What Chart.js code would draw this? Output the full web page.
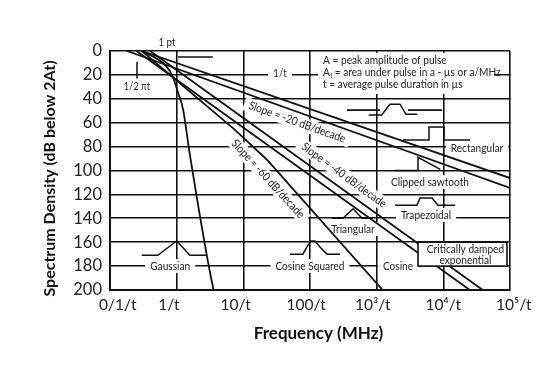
<!DOCTYPE html>
<html>
<head>
<meta charset="utf-8">
<script src="https://cdn.jsdelivr.net/npm/chart.js@4"></script>
<style>
html, body { margin: 0; padding: 0; background: #fff; }
</style>
</head>
<body>
<canvas id="spectrumChart" width="560" height="377"></canvas>
<script>
// axis ticks
var freqTicks = [0.1, 1, 10, 100, 1000, 10000, 100000];
var freqLabels = ['\u2002\u20020/1/t', '1/t\u2002\u2002', '10/t\u2002\u2002', '100/t\u2002', '10\u00b3/t\u2002', '10\u2074/t', '\u200210\u2075/t'];

// spectrum envelopes: [frequency (x 1/t), dB below 2At]
var rectangular = [[0.18, 0], [100000, 114.6]];
var clippedSawtooth = [[0.3, 0], [100000, 106.3]];
var triangular = [[0.25, 0], [25000, 200]];
var dampedExp = [[0.4, 0], [39000, 200]];
var cosineSquared = [[0.3, 0], [7.5, 66], [22.6, 91], [1230, 200]];
var gaussian = [[0.3, 0], [0.67, 11.7], [0.88, 21.8], [1.05, 35], [1.25, 49], [1.58, 87], [3.5, 197.5], [3.6, 200]];

// small pulse sketches and marks
var gaussianIcon = [[0.3, 171], [0.52, 171], [1.0, 159], [1.58, 171], [2.85, 171]];
var cosSqIcon = [[50, 170], [78, 170], [90, 164], [103, 159], [119, 159], [141, 164], [180, 170], [282, 170]];
var triangleIcon = [[214, 140], [313, 140], [442, 132], [603, 140], [881, 140]];
var trapIcon = [[1884, 129], [4027, 129], [4467, 123], [6761, 123], [8318, 129], [14962, 129]];
var trapTopIcon = [[760, 53.5], [1190, 53.5], [1580, 44.5], [2240, 44.5], [2750, 53], [4050, 53]];
var rectIcon = [[2483, 74.5], [6095, 74.5], [6095, 63.6], [10233, 63.6], [10233, 74.5], [25119, 74.5]];
var sawIcon = [[1850, 100], [4170, 100], [4170, 89], [9000, 99]];
var topBarLeft = [[359, 49.5], [1122, 49.5]];
var topBarRight = [[2951, 49.5], [9550, 49.5]];
var halfPiTick = [[0.254, 9], [0.254, 23]];
var shortBar = [[1.05, 5], [3.5, 5]];

function pts(arr) {
    return arr.map(function(p) { return { x: p[0], y: p[1] }; });
}

function curve(arr, width) {
    return {
        data: pts(arr),
        borderColor: '#111',
        borderWidth: width || 1.8,
        pointRadius: 0,
        fill: false,
        tension: 0
    };
}

var gaussCurve = curve(gaussian);
gaussCurve.cubicInterpolationMode = 'monotone';

var squeeze = 0.88;  // narrow the text a little, like the condensed original face

var notes = [
    { text: '1 pt', f: 0.716, db: -7.5, size: 11 },
    { text: '1/2 \u03c0t', f: 0.254, db: 30, size: 10.5 },
    { text: '1/t', f: 35.5, db: 18.5, size: 11.5, bg: true },
    { text: 'Slope = -20 dB/decade', f: 64, db: 59.5, size: 11.5, rot: 19.7, bg: true },
    { text: 'Slope = -40 dB/decade', f: 324, db: 104, size: 11.5, rot: 36, bg: true },
    { text: 'Slope = -60 dB/decade', f: 23.4, db: 107, size: 11.5, rot: 47.5, bg: true },
    { text: 'Rectangular', f: 32000, db: 81.2, size: 11.5, bg: true },
    { text: 'Clipped sawtooth', f: 6300, db: 109.6, size: 11.5, bg: true },
    { text: 'Trapezoidal', f: 5500, db: 137.2, size: 11.5, bg: true },
    { text: 'Triangular', f: 441, db: 149, size: 11.5, bg: true },
    { text: 'Cosine', f: 2090, db: 180, size: 11.5, bg: true },
    { text: 'Cosine Squared', f: 100, db: 180, size: 11.5, bg: true },
    { text: 'Gaussian', f: 0.8, db: 180, size: 11.5, bg: true }
];

var annotationPlugin = {
    id: 'annotationPlugin',
    beforeDatasetsDraw: function(chart) {
        var ctx = chart.ctx;
        var xs = chart.scales.x, ys = chart.scales.y;
        ctx.save();
        notes.forEach(function(n) {
            if (!n.bg) return;
            ctx.font = n.size + 'px Lato';
            var w = ctx.measureText(n.text).width * squeeze;
            ctx.save();
            ctx.translate(xs.getPixelForValue(n.f), ys.getPixelForValue(n.db));
            ctx.rotate((n.rot || 0) * Math.PI / 180);
            ctx.fillStyle = '#fff';
            ctx.fillRect(-w / 2 - 5, -n.size * 0.6, w + 10, n.size * 1.2);
            ctx.restore();
        });
        // legend text block background
        var x0 = xs.getPixelForValue(157);
        ctx.fillStyle = '#fff';
        ctx.fillRect(x0 - 5, ys.getPixelForValue(1.5), 176, ys.getPixelForValue(36) - ys.getPixelForValue(1.5));
        ctx.restore();
    },
    afterDatasetsDraw: function(chart) {
        var ctx = chart.ctx;
        var xs = chart.scales.x, ys = chart.scales.y;
        ctx.save();
        // boxed label
        var bx0 = xs.getPixelForValue(4170), bx1 = xs.getPixelForValue(90000);
        var by0 = ys.getPixelForValue(160), by1 = ys.getPixelForValue(180);
        ctx.fillStyle = '#fff';
        ctx.fillRect(bx0, by0, bx1 - bx0, by1 - by0);
        ctx.strokeStyle = '#111';
        ctx.lineWidth = 1.6;
        ctx.strokeRect(bx0, by0, bx1 - bx0, by1 - by0);
        ctx.fillStyle = '#222';
        ctx.textAlign = 'center';
        ctx.textBaseline = 'middle';

        function say(text, x, y, size, rot) {
            ctx.save();
            ctx.font = size + 'px Lato';
            ctx.translate(x, y);
            ctx.rotate((rot || 0) * Math.PI / 180);
            ctx.scale(squeeze, 1);
            ctx.fillText(text, 0, 0);
            ctx.restore();
        }

        var bcx = (bx0 + bx1) / 2;
        say('Critically damped', bcx + 3, by0 + 7.5, 11.5);
        say('exponential', bcx + 3, by0 + 18, 11.5);

        notes.forEach(function(n) {
            say(n.text, xs.getPixelForValue(n.f), ys.getPixelForValue(n.db), n.size, n.rot);
        });

        // legend text block
        var x0 = xs.getPixelForValue(157);
        ctx.save();
        ctx.translate(x0, 0);
        ctx.scale(squeeze, 1);
        ctx.textAlign = 'left';
        ctx.font = '11.5px Lato';
        ctx.fillText('A = peak amplitude of pulse', 0, ys.getPixelForValue(8.1));
        var y2 = ys.getPixelForValue(18.1);
        ctx.fillText('A', 0, y2);
        var wa = ctx.measureText('A').width;
        ctx.font = '7px Lato';
        ctx.fillText('t', wa + 0.5, y2 + 3);
        ctx.font = '11.5px Lato';
        ctx.fillText(' = area under pulse in a - \u00b5s or a/MHz', wa + 2.5, y2);
        ctx.fillText('t = average pulse duration in \u00b5s', 0, ys.getPixelForValue(27.6));
        ctx.restore();
        ctx.restore();
    }
};

var ctx = document.getElementById('spectrumChart').getContext('2d');
var spectrumChart = new Chart(ctx, {
    type: 'line',
    data: {
        datasets: [
            curve(rectangular),
            curve(clippedSawtooth),
            curve(triangular),
            curve(dampedExp),
            curve(cosineSquared),
            gaussCurve,
            curve(gaussianIcon, 1.5),
            curve(cosSqIcon, 1.5),
            curve(triangleIcon, 1.5),
            curve(trapIcon, 1.5),
            curve(trapTopIcon, 1.5),
            curve(rectIcon, 1.5),
            curve(sawIcon, 1.5),
            curve(topBarLeft, 1.6),
            curve(topBarRight, 1.6),
            curve(halfPiTick, 1.5),
            curve(shortBar, 1.6)
        ]
    },
    options: {
        responsive: false,
        animation: false,
        layout: { padding: { top: 51, right: 50, left: 0, bottom: 0 } },
        plugins: {
            legend: { display: false },
            tooltip: { enabled: false }
        },
        scales: {
            x: {
                type: 'logarithmic',
                min: 0.1,
                max: 100000,
                afterFit: function(scale) { scale.height = 87; },
                afterBuildTicks: function(scale) {
                    scale.ticks = freqTicks.map(function(v) { return { value: v }; });
                },
                ticks: {
                    color: '#222',
                    font: { family: 'Lato', size: 15.5 },
                    padding: 6,
                    maxRotation: 0,
                    autoSkip: false,
                    callback: function(value, index) { return freqLabels[index]; }
                },
                grid: { color: '#111', lineWidth: 1.6, drawTicks: false },
                border: { color: '#111', width: 2 },
                title: {
                    display: true,
                    text: '\u2002\u2002Frequency (MHz)',
                    color: '#111',
                    font: { family: 'Lato', size: 17, weight: 'bold' },
                    padding: { top: 0, bottom: 33 }
                }
            },
            y: {
                type: 'linear',
                reverse: true,
                min: 0,
                max: 200,
                afterFit: function(scale) { scale.width = 110; },
                ticks: {
                    stepSize: 20,
                    color: '#222',
                    font: { family: 'Lato', size: 16.5 },
                    padding: 8
                },
                grid: { color: '#111', lineWidth: 1.6, drawTicks: false },
                border: { color: '#111', width: 2 },
                title: {
                    display: true,
                    text: 'Spectrum Density (dB below 2At)\u2002\u2002',
                    color: '#111',
                    font: { family: 'Lato', size: 16, weight: 'bold' },
                    padding: { top: 40, bottom: 0 }
                }
            }
        }
    },
    plugins: [annotationPlugin]
});
</script>
</body>
</html>
